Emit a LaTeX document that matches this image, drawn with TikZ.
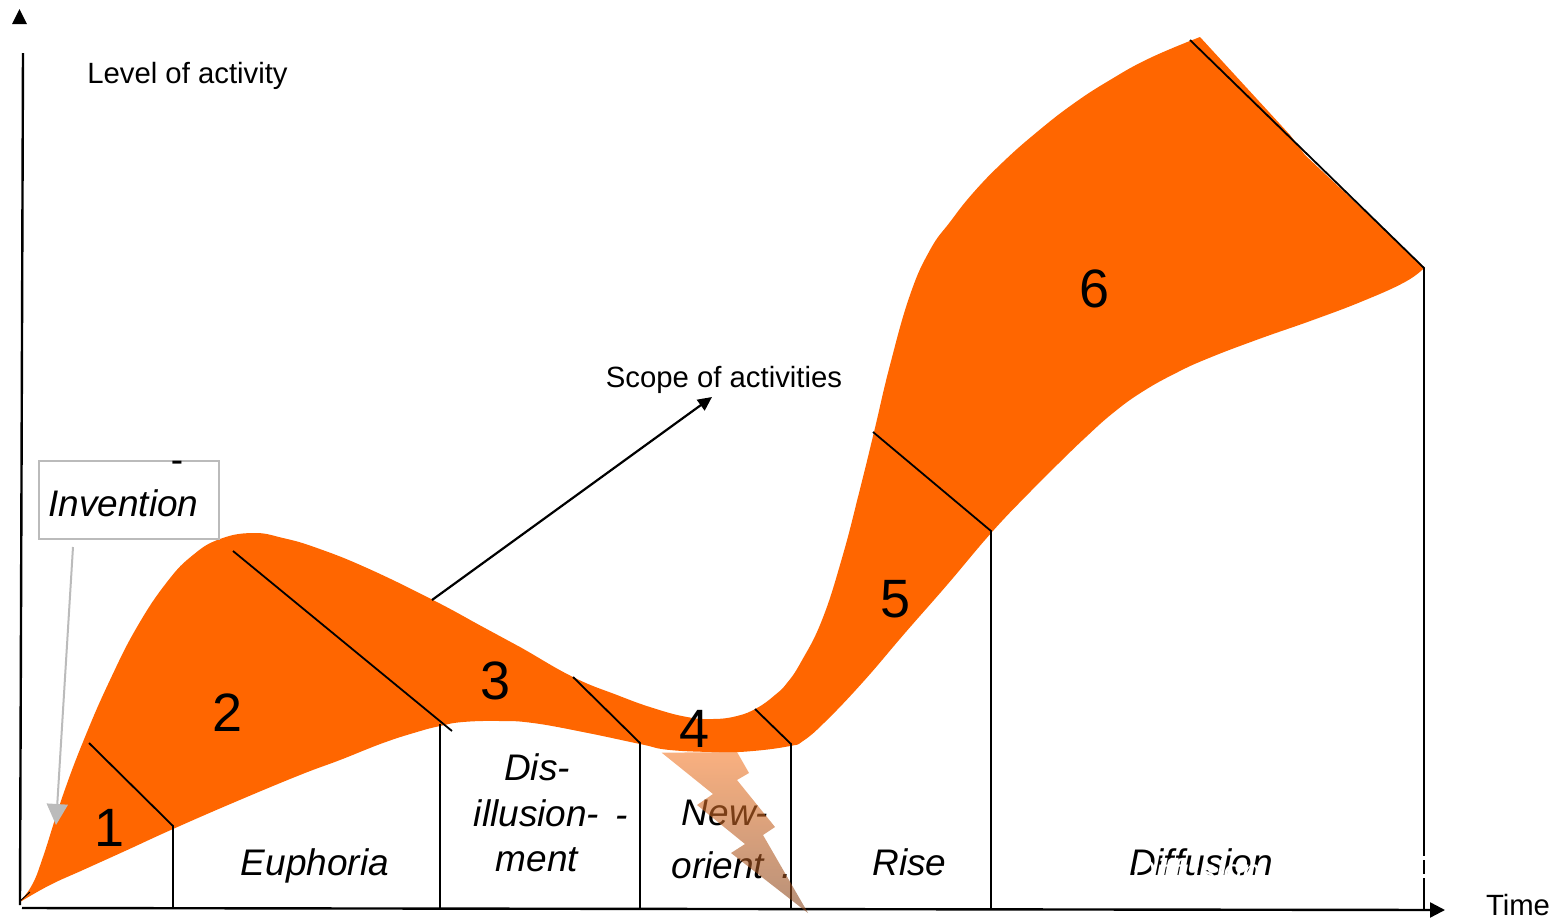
\documentclass[tikz,border=0pt]{standalone}
\usepackage{fontspec}
\setmainfont{Liberation Sans}
\usetikzlibrary{arrows.meta}
\definecolor{flow}{HTML}{FF6600}
\definecolor{boxgrey}{HTML}{BBBBBB}
\definecolor{boltA}{RGB}{245,123,42}
\definecolor{boltB}{RGB}{135,70,30}
\tikzset{
  x=1pt,y=-1pt,
  lbl/.style={inner sep=0pt,font=\fontsize{29.3}{29.3}\selectfont},
  phase/.style={inner sep=0pt,font=\fontsize{37}{37}\selectfont\itshape},
  num/.style={inner sep=0pt,font=\fontsize{54}{54}\selectfont},
  rule/.style={black,line width=1.8pt},
  axis/.style={black,line width=2.4pt},
  tip/.style={-{Triangle[length=15pt,width=15pt]}},
}
\begin{document}
\begin{tikzpicture}
\useasboundingbox (0,0) rectangle (1555,919);
% flow band
\fill[flow] plot[smooth,tension=.75] coordinates {
 (20,901) (32,885) (43,857) (63,795) (85,737) (110,680) (137,627) (167,582) (193,555) (220,539) (253,533) (283,538) (317,548) (367,568) (433,600) (483,627) (520,647) (573,677) (617,695) (653,708) (687,717) (713,719) (737,716) (757,708) (775,695) (787,683) (801,662) (822,620) (842,558) (859,493) (874,432) (890,365) (910,295) (930,250) (950,222) (973,193) (1003,162) (1037,132) (1073,104) (1110,80) (1150,58) (1200,37)}
 -- (1290,135) -- (1305,155) -- (1424,267)
 -- plot[smooth,tension=.75] coordinates {
 (1424,268) (1405,282) (1363,301) (1313,320) (1259,339) (1209,358) (1176,373) (1142,392) (1113,413) (1086,437) (1059,463) (1030,492) (992,532) (947,585) (905,633) (863,682) (825,722) (803,741) (790,746) (753,751) (720,752) (670,750) (640,744) (583,732) (533,723) (500,721) (463,722) (440,726) (417,732) (383,743) (340,760) (300,775) (235,802) (173,829) (125,851) (83,870) (50,885) (20,902)} -- cycle;
% anchors
\coordinate (O) at (22,908);
\coordinate (YT) at (23,53);
\coordinate (YB) at (20,905);
\coordinate (XE) at (1445,910);
\coordinate (OT) at (30,892);
\coordinate (OB) at (20,901);
\coordinate (a1) at (89,743);   \coordinate (b1) at (173,826); \coordinate (c1) at (173,907);
\coordinate (a2) at (233,551);  \coordinate (b2) at (452,731);
\coordinate (b2v) at (440,724); \coordinate (c2) at (440,908);
\coordinate (a3) at (573,677);  \coordinate (b3) at (640,743); \coordinate (c3) at (640,908);
\coordinate (a4) at (755,709);  \coordinate (b4) at (791,744); \coordinate (c4) at (791,909);
\coordinate (a5) at (873,432);  \coordinate (b5) at (991,531); \coordinate (c5) at (991,909);
\coordinate (a6) at (1190,40);  \coordinate (b6) at (1424,268); \coordinate (c6) at (1424,910);
\coordinate (s0) at (432,600);  \coordinate (s1) at (712,397);
\coordinate (g0) at (73,547);   \coordinate (g1) at (56,825);
% axes
\draw[axis] (YB) -- (YT);
\draw[axis,tip] (O) -- (XE);
\draw[black,line width=1pt] (OB) -- (OT);
\fill[black] (12,24) -- (27,24) -- (19.5,9) -- cycle;
% dividers
\foreach \n in {1,3,4,5,6}{\draw[rule] (a\n) -- (b\n) -- (c\n);}
\draw[rule] (a2) -- (b2);
\draw[rule] (b2v) -- (c2);
% scope arrow
\draw[black,line width=2.2pt,-{Triangle[length=14pt,width=13pt]}] (s0) -- (s1);
% invention
\node[draw=boxgrey,line width=2.5pt,minimum width=180pt,minimum height=78pt,inner sep=0pt] (box) at (129,500) {};
\node[phase] (inv) at (123.5,503) {Invention};
\node[inner sep=0pt,font=\fontsize{37}{37}\selectfont] (dash) at (177,467) {-};
\draw[boxgrey,line width=2pt,-{Triangle[length=21pt,width=21pt]}] (g0) -- (g1);
% numbers
\node[num] (n1) at (110,828) {1};
\node[num] (n2) at (228,713) {2};
\node[num] (n3) at (496,681) {3};
\node[num] (n4) at (695,729) {4};
\node[num] (n5) at (896,599) {5};
\node[num] (n6) at (1095,289) {6};
% labels
\node[lbl] (lev) at (187.5,76) {Level of activity};
\node[lbl] (sco) at (724,380) {Scope of activities};
\node[lbl] (tim) at (1518,905) {Time};
\node[phase] (eu) at (315,866) {Euphoria};
\node[phase] (d1) at (537,767.5) {Dis-};
\node[phase] (d2) at (536.5,813) {illusion-};
\node[phase] (d2b) at (622,822) {-};
\node[phase] (d3) at (537,860) {ment};
\node[phase] (o1) at (725,813) {New-};
\node[phase] (o2) at (718,865) {orient};
\node[phase] (o3) at (787,877) {.};
\node[phase] (ri) at (909.5,862) {Rise};
\node[phase] (di) at (1201,862) {Diffusion};
\node[inner sep=0pt,white,font=\fontsize{33}{33}\selectfont\itshape] (diw) at (1196,871) {Diffusion};
\draw[white,line width=2pt] (1424,856) -- (1424,860);
\draw[white,line width=2pt] (1424,874) -- (1424,878);
% lightning
\fill[flow,opacity=.6] (716,735) -- (730,735) -- (737,752) -- (700,752) -- cycle;
\shade[top color=boltA,bottom color=boltB,opacity=.6]
 (661.7,752.7) -- (737,752) -- (749,773) -- (737,780) -- (775,827) -- (763,835) -- (808,913) -- (731,853) -- (745,844) -- (697,805) -- (713,794) -- cycle;
\end{tikzpicture}
\end{document}
